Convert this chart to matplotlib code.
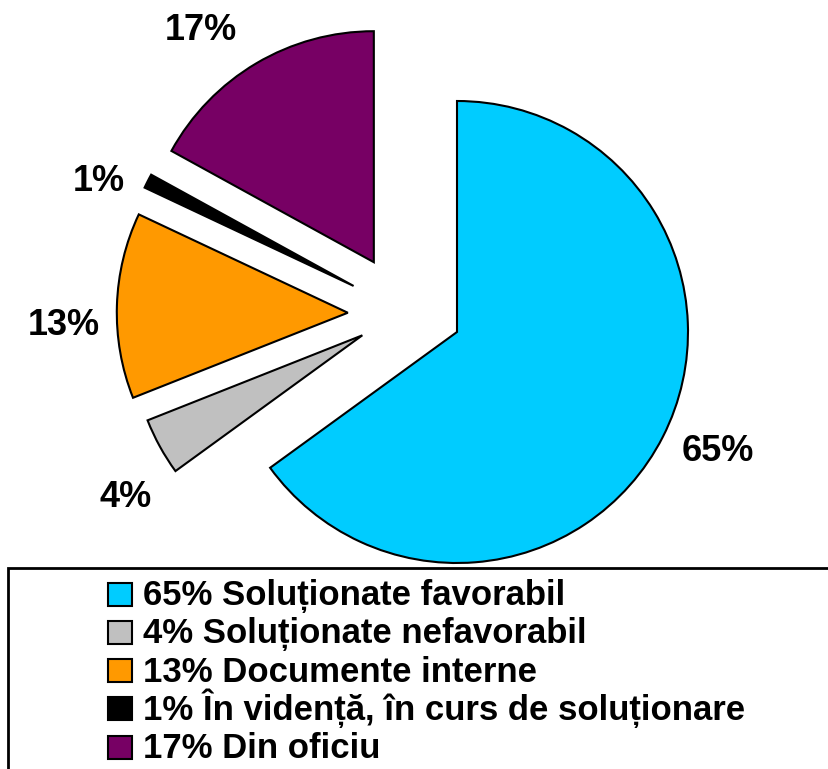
import matplotlib
matplotlib.use("Agg")
import numpy as np
import matplotlib.pyplot as plt
from matplotlib.patches import Rectangle

# slice data, clockwise from 12 o'clock
values = [65, 4, 13, 1, 17]
names = ["Soluționate favorabil", "Soluționate nefavorabil", "Documente interne",
         "În videnț\u0103, în curs de soluționare", "Din oficiu"]
colors = ["#00CCFF", "#C0C0C0", "#FF9900", "#000000", "#770064"]
# how far each slice is pulled out (in radii) and in which direction (deg)
explode = [0, 0.41, 0.48, 0.49, 0.47]
explode_dir = [0, 182, 170, 156, 140]
# small nudges of the percent labels, in pixels (right, down)
label_shift = [(8, -9), (12, 25), (0, 22), (-2, 25), (-28, 13)]

plt.rcParams['font.family'] = ['Liberation Sans', 'DejaVu Sans']

W, H = 829, 769
R = 231.0            # pie radius in px
cx, cy = 457.0, 332.0  # pie centre, px from top-left

fig = plt.figure(figsize=(W / 100, H / 100), dpi=100)
ax = fig.add_axes([0, 0, 1, 1])

wedges, texts = ax.pie(values, colors=colors, startangle=90,
                       counterclock=False, radius=1,
                       labels=[f"{v}%" for v in values], labeldistance=1.23,
                       wedgeprops=dict(edgecolor='black', linewidth=1.5),
                       textprops=dict(fontsize=26, fontweight='bold', color='black'))

# pull slices out the way the original chart does
for w, t, e, d, s in zip(wedges, texts, explode, explode_dir, label_shift):
    ox, oy = e * np.cos(np.radians(d)), e * np.sin(np.radians(d))
    w.set_center((ox, oy))
    mid = np.radians((w.theta1 + w.theta2) / 2)
    t.set_position((ox + 1.23 * np.cos(mid) + s[0] / R,
                    oy + 1.23 * np.sin(mid) - s[1] / R))
    t.set_ha('center')
    t.set_va('center')

ax.set_xlim(-cx / R, (W - cx) / R)
ax.set_ylim(-(H - cy) / R, cy / R)
ax.set_aspect('equal', adjustable='datalim')
ax.axis('off')

# legend box running off the right/bottom edge
fig.patches.append(Rectangle((8 / W, -0.05), 1.0, (H - 568) / H + 0.05,
                             transform=fig.transFigure, fill=False,
                             edgecolor='black', linewidth=2))

# legend rows drawn by hand so every row has the same pitch
row0, pitch = 594.0, 38.3
for i, (c, v, n) in enumerate(zip(colors, values, names)):
    yc = row0 + i * pitch
    fig.patches.append(Rectangle((108 / W, 1 - (yc + 11.5) / H), 24 / W, 23 / H,
                                 transform=fig.transFigure, facecolor=c,
                                 edgecolor='black', linewidth=1.5))
    fig.text(143 / W, 1 - (yc + 11) / H, f"{v}% {n}", fontsize=25,
             fontweight='bold', ha='left', va='baseline')

fig.savefig("out.png", dpi=100)
